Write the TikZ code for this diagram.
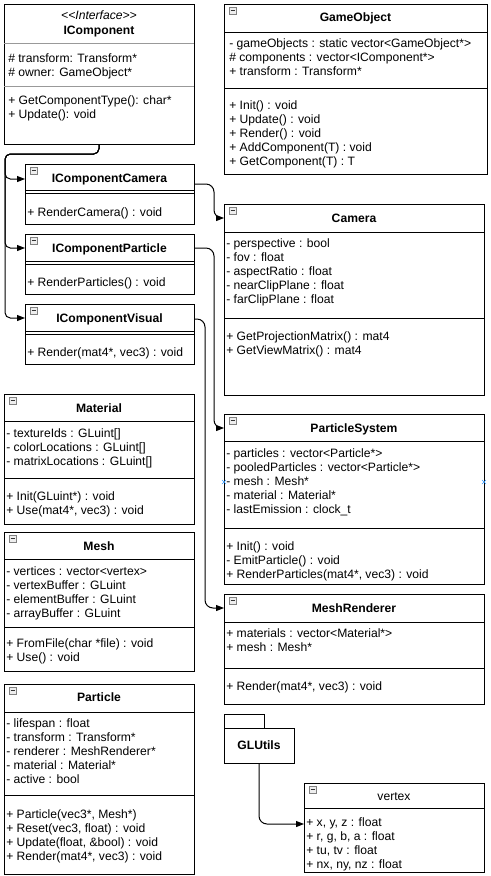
\documentclass[tikz,border=0pt]{standalone}
\usepackage{fontspec}
\setmainfont{Liberation Sans}
\usetikzlibrary{arrows.meta,calc}
\definecolor{sepgrey}{HTML}{999999}
\definecolor{icongrey}{HTML}{808080}
\definecolor{iconfill}{HTML}{EEEEEE}
\definecolor{anchorblue}{HTML}{3399FF}
\newcommand\umlfont{\fontsize{9.1}{11}\selectfont}
\tikzset{
  box/.style={draw=black, line width=0.75pt, fill=white, inner sep=0pt, outer sep=0pt},
  txt/.style={font=\umlfont, inner sep=0pt, anchor=base west},
  ttl/.style={font=\umlfont\bfseries, inner sep=0pt, anchor=base},
  sepline/.style={line width=0.75pt, draw=black},
  conn/.style={line width=0.75pt, rounded corners=6pt, -{Triangle[length=6pt,width=4.5pt]}},
  iconbox/.style={draw=icongrey, fill=iconfill, line width=0.5pt},
}
\newcommand\ubox[5]{\node[box, minimum width=#4*0.75pt, minimum height=#5*0.75pt, anchor=north west] (#1) at (#2,#3) {};}
\newcommand\uicon[2]{\draw[iconbox] ({#1+5},{#2+3}) rectangle ({#1+12},{#2+10});
  \draw[black!80, line width=0.6pt] ({#1+6.5},{#2+6.5}) -- ({#1+10.5},{#2+6.5});}
\newcommand\usep[3]{\draw[sepline] (#1,#3) -- (#2,#3);}
\newcommand\ulines[4]{\foreach \linetext [count=\i from 0] in {#4} {\node[txt, name=#1\i] at ({#2+2},{#3+4+14*\i}) {\linetext};}}
\begin{document}
\begin{tikzpicture}[x=0.75pt,y=-0.75pt]
\useasboundingbox (0,0) rectangle (490,876);

% ---------- IComponent ----------
\ubox{ic}{4}{4}{190}{140}
\draw[line width=0.75pt, sepgrey] (4,43) -- (194,43);
\draw[line width=0.75pt, sepgrey] (4,86) -- (194,86);
\node[txt, anchor=base, font=\umlfont\itshape] (icst) at (99,19) {{<}{<}Interface{>}{>}};
\node[ttl] (ict) at (99,34) {IComponent};
\ulines{ica}{6}{58}{{\# transform: Transform*},{\# owner: GameObject*}}
\ulines{icm}{6}{100}{{+ GetComponentType(): char*},{+ Update(): void}}

% ---------- GameObject ----------
\ubox{go}{224}{4}{263}{170}
\uicon{224}{4}
\usep{224}{487}{32}
\usep{224}{487}{88}
\node[ttl] (got) at (355.5,21) {GameObject};
\ulines{goa}{227}{43}{{- gameObjects : static vector<GameObject*>},{\# components : vector<IComponent*>},{+ transform : Transform*}}
\ulines{gom}{227}{105.5}{{+ Init() : void},{+ Update() : void},{+ Render() : void},{+ AddComponent(T) : void},{+ GetComponent(T) : T}}

% ---------- IComponentCamera ----------
\ubox{icc}{25}{164}{169}{60}
\uicon{25}{164}
\usep{25}{194}{190.5}
\usep{25}{194}{193.5}
\node[ttl] (icct) at (109.5,182) {IComponentCamera};
\ulines{iccm}{25}{212}{{+ RenderCamera() : void}}

% ---------- IComponentParticle ----------
\ubox{icp}{25}{234}{169}{60}
\uicon{25}{234}
\usep{25}{194}{261}
\usep{25}{194}{264}
\node[ttl] (icpt) at (109.5,252) {IComponentParticle};
\ulines{icpm}{25}{282}{{+ RenderParticles() : void}}

% ---------- IComponentVisual ----------
\ubox{icv}{25}{304}{169}{60}
\uicon{25}{304}
\usep{25}{194}{331}
\usep{25}{194}{334}
\node[ttl] (icvt) at (109.5,322) {IComponentVisual};
\ulines{icvm}{25}{352}{{+ Render(mat4*, vec3) : void}}

% ---------- Camera ----------
\ubox{cam}{224}{204}{260}{191}
\uicon{224}{204}
\usep{224}{484}{232}
\usep{224}{484}{318}
\node[ttl] (camt) at (354,222) {Camera};
\ulines{cama}{224}{243}{{- perspective : bool},{- fov : float},{- aspectRatio : float},{- nearClipPlane : float},{- farClipPlane : float}}
\ulines{camm}{224}{336}{{+ GetProjectionMatrix() : mat4},{+ GetViewMatrix() : mat4}}

% ---------- ParticleSystem ----------
\ubox{ps}{224}{414}{260}{170}
\uicon{224}{414}
\usep{224}{484}{441}
\usep{224}{484}{528}
\node[ttl] (pst) at (354,432) {ParticleSystem};
\ulines{psa}{224}{453.5}{{- particles : vector<Particle*>},{- pooledParticles : vector<Particle*>},{- mesh : Mesh*},{- material : Material*},{- lastEmission : clock\_t}}
\ulines{psm}{224}{546}{{+ Init() : void},{- EmitParticle() : void},{+ RenderParticles(mat4*, vec3) : void}}
\draw[anchorblue, line width=0.4pt] (222,480) -- (226,484) (222,484) -- (226,480);
\draw[anchorblue, line width=0.4pt] (482,480) -- (486,484) (482,484) -- (486,480);

% ---------- MeshRenderer ----------
\ubox{mr}{224}{594}{260}{110}
\uicon{224}{594}
\usep{224}{484}{622}
\usep{224}{484}{668}
\node[ttl] (mrt) at (354,612) {MeshRenderer};
\ulines{mra}{224}{633}{{+ materials : vector<Material*>},{+ mesh : Mesh*}}
\ulines{mrm}{224}{686}{{+ Render(mat4*, vec3) : void}}

% ---------- Material ----------
\ubox{mat}{4}{394}{190}{130}
\uicon{4}{394}
\usep{4}{194}{421}
\usep{4}{194}{478}
\node[ttl] (matt) at (99,412) {Material};
\ulines{mata}{4}{433}{{- textureIds : GLuint[]},{- colorLocations : GLuint[]},{- matrixLocations : GLuint[]}}
\ulines{matm}{4}{496}{{+ Init(GLuint*) : void},{+ Use(mat4*, vec3) : void}}

% ---------- Mesh ----------
\ubox{mesh}{4}{532}{190}{139}
\uicon{4}{532}
\usep{4}{194}{559}
\usep{4}{194}{627}
\node[ttl] (mesht) at (99,550) {Mesh};
\ulines{mesha}{4}{571}{{- vertices : vector<vertex>},{- vertexBuffer : GLuint},{- elementBuffer : GLuint},{- arrayBuffer : GLuint}}
\ulines{meshm}{4}{643}{{+ FromFile(char *file) : void},{+ Use() : void}}

% ---------- Particle ----------
\ubox{part}{4}{684}{190}{190}
\uicon{4}{684}
\usep{4}{194}{712}
\usep{4}{194}{795}
\node[ttl] (partt) at (99,701) {Particle};
\ulines{parta}{4}{723}{{- lifespan : float},{- transform : Transform*},{- renderer : MeshRenderer*},{- material : Material*},{- active : bool}}
\ulines{partm}{4}{814}{{+ Particle(vec3*, Mesh*)},{+ Reset(vec3, float) : void},{+ Update(float, \&bool) : void},{+ Render(mat4*, vec3) : void}}

% ---------- GLUtils package ----------
\node[box, minimum width=40*0.75pt, minimum height=14*0.75pt, anchor=north west] (glutab) at (224,714) {};
\node[box, minimum width=70*0.75pt, minimum height=35*0.75pt, anchor=north west, font=\umlfont\bfseries] (glu) at (224,728) {GLUtils};

% ---------- vertex ----------
\ubox{vx}{304}{783}{180}{89}
\uicon{304}{783}
\usep{304}{484}{808}
\node[txt, anchor=base] (vxt) at (394,800) {vertex};
\ulines{vxa}{304}{822}{{+ x, y, z : float},{+ r, g, b, a : float},{+ tu, tv : float},{+ nx, ny, nz : float}}

% ---------- connectors ----------
\draw[conn, rounded corners=4pt] (ic.south) -- ++(0,10) -| ($(icc.north west)+(-20,15)$) -- ($(icc.north west)+(0,15)$);
\draw[conn, rounded corners=4pt] (ic.south) -- ++(0,10) -| ($(icp.north west)+(-20,14)$) -- ($(icp.north west)+(0,14)$);
\draw[conn, rounded corners=4pt] (ic.south) -- ++(0,10) -| ($(icv.north west)+(-20,14)$) -- ($(icv.north west)+(0,14)$);
\draw[conn] ($(icc.north east)+(0,20)$) -| ($(cam.north west)+(-10,14)$) -- ($(cam.north west)+(0,14)$);
\draw[conn] ($(icp.north east)+(0,14)$) -| ($(ps.north west)+(-10,14)$) -- ($(ps.north west)+(0,14)$);
\draw[conn] ($(icv.north east)+(0,15)$) -| ($(mr.north west)+(-19,14)$) -- ($(mr.north west)+(0,14)$);
\draw[conn] (glu.south) |- ($(vx.north west)+(0,41)$);
\end{tikzpicture}
\end{document}
